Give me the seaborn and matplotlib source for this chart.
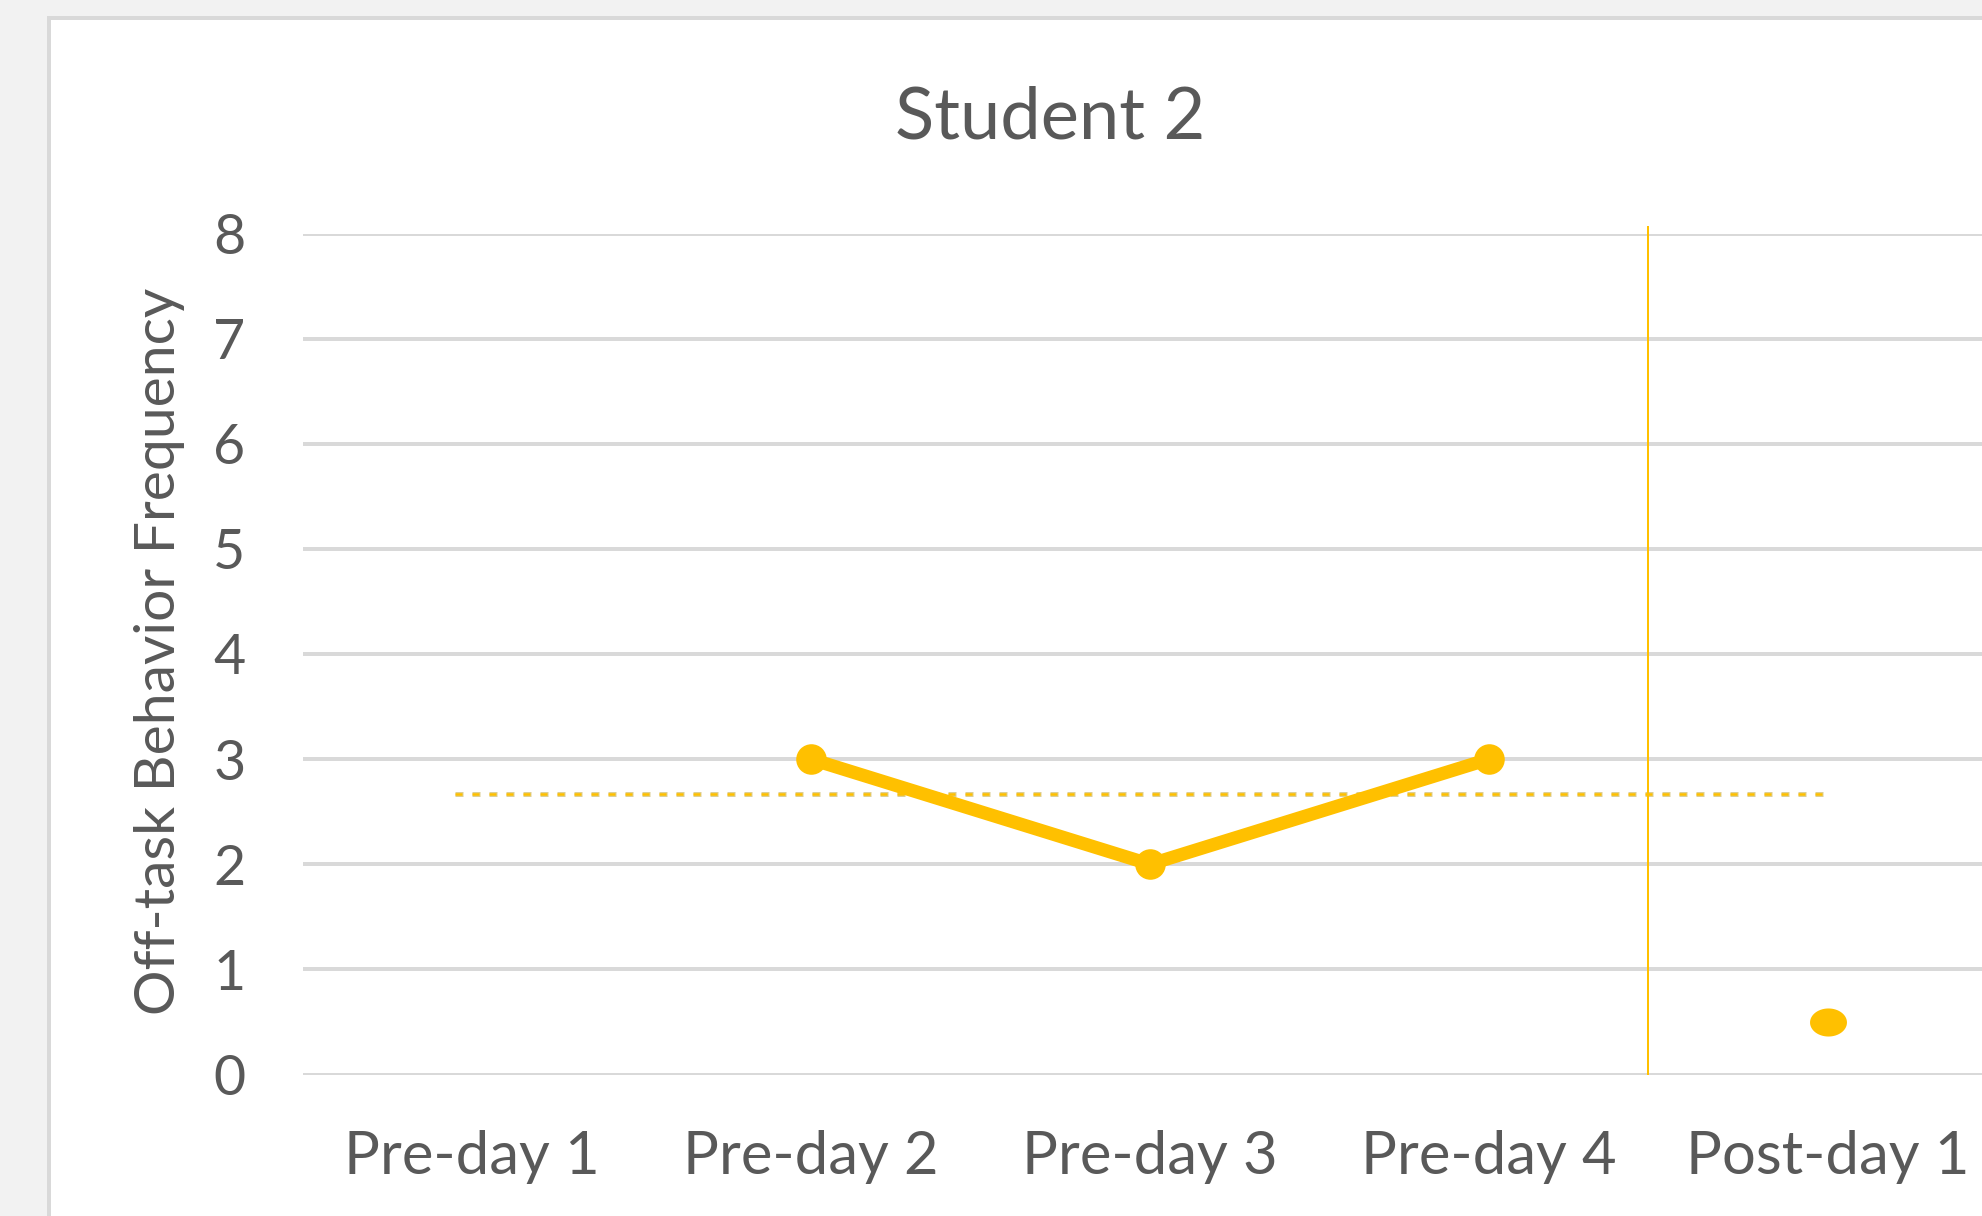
import numpy as np
import matplotlib
matplotlib.use("Agg")
import matplotlib.pyplot as plt
from matplotlib.patches import Rectangle
from matplotlib.path import Path
import seaborn as sns

# --- Datos ---
categories = ["Pre-day 1", "Pre-day 2", "Pre-day 3", "Pre-day 4", "Post-day 1"]
baseline = [np.nan, 3, 2, 3, np.nan]
post = [np.nan, np.nan, np.nan, np.nan, 0.5]
phase_change = 3.47          # linea vertical entre fases
mean_span = [-0.05, 4.0]     # extension de la linea de media
y_ticks = [0, 1, 2, 3, 4, 5, 6, 7, 8]

title = "Student 2"
y_label = "Off-task Behavior Frequency"

# --- Estilo ---
sns.set_style("white")
plt.rcParams['font.family'] = ['Lato', 'DejaVu Sans']
TEXT = '#595959'
GOLD = '#FFC000'
GRID = '#D9D9D9'

W, H = 1982, 1216
fig = plt.figure(figsize=(W / 100, H / 100), dpi=100)
fig.patch.set_facecolor('#F2F2F2')

# area del grafico (blanca con borde gris)
rect = Rectangle((49 / W, -0.1), 1.2, 1 - 18 / H + 0.1, transform=fig.transFigure,
                 facecolor='white', edgecolor=GRID, linewidth=2.88, zorder=-1)
fig.add_artist(rect)

ax = fig.add_axes([302.5 / W, (H - 1074.5) / H, 1695 / W, 841 / H])
ax.set_facecolor('none')

x = np.arange(len(categories))

# linea de media de la linea base
mean_val = np.nanmean(baseline)
sns.lineplot(x=mean_span, y=[mean_val, mean_val], color='#DCCF95', linewidth=3.6,
             ax=ax, zorder=2).lines[-1].set_dashes([1.6, 1.8])
sns.lineplot(x=mean_span, y=[mean_val, mean_val], color=GOLD, linewidth=1.8,
             ax=ax, zorder=2).lines[-1].set_dashes([2.8, 4])

# serie de linea base
sns.lineplot(x=x, y=baseline, color=GOLD, linewidth=9.5, marker='o', markersize=22,
             markeredgewidth=0, errorbar=None, ax=ax, zorder=3)

# punto post-intervencion (elipse)
t = np.linspace(0, 2 * np.pi, 60)
ellipse = Path(np.column_stack([np.cos(t), 0.76 * np.sin(t)]), closed=True)
sns.scatterplot(x=x, y=post, color=GOLD, marker=ellipse, s=26.6 ** 2,
                linewidth=0, ax=ax, zorder=3)

# linea de cambio de fase
ax.vlines(phase_change, 0, 8.07, color=GOLD, linewidth=1.44, clip_on=False, zorder=2)

ax.set_xlim(-0.5, 4.5)
ax.set_ylim(0, 8)
ax.set_xticks(x, categories)
ax.set_yticks(y_ticks)
ax.tick_params(axis='both', length=0, labelsize=40, colors=TEXT)
ax.tick_params(axis='x', labelsize=43, pad=40)
ax.tick_params(axis='y', pad=41)
ax.yaxis.grid(True, color=GRID, linewidth=2.88)
ax.xaxis.grid(False)
ax.set_axisbelow(True)
for s in ax.spines.values():
    s.set_visible(False)

ax.set_ylabel(y_label, fontsize=41, color=TEXT)
ax.yaxis.label.set_va('center')
ax.yaxis.set_label_coords((160 - 302.5) / 1695, (1074.5 - 651) / 841)

ax.set_title(title, fontsize=52, color=TEXT, x=(1050 - 302.5) / 1695,
             y=(1074.5 - 126) / 841, va='center')

fig.savefig("out.png", dpi=100, facecolor=fig.get_facecolor())
